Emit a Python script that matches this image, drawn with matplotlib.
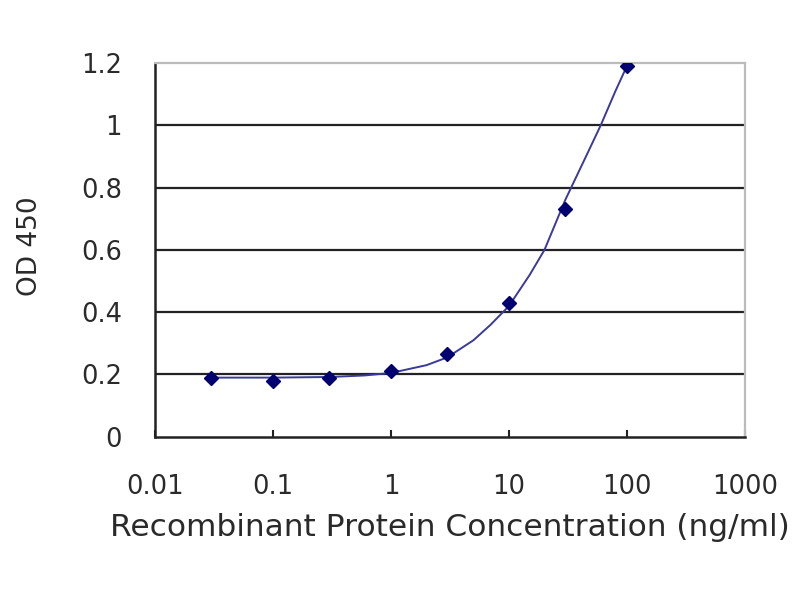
import numpy as np
import matplotlib
matplotlib.use('Agg')
from matplotlib import pyplot as plt

# measured points (ng/ml vs OD 450)
conc = [0.03, 0.1, 0.3, 1, 3, 10, 30, 100]
od = [0.19, 0.18, 0.19, 0.21, 0.265, 0.43, 0.73, 1.19]

# fitted curve
curve_x = [0.03, 0.1, 0.3, 0.6, 1, 2, 3, 5, 7, 10, 15, 20, 30, 45, 60, 80, 100]
curve_y = [0.19, 0.19, 0.192, 0.197, 0.205, 0.23, 0.255, 0.31, 0.36, 0.42, 0.52, 0.6, 0.76, 0.9, 1.0, 1.11, 1.19]

xticks = [0.01, 0.1, 1, 10, 100, 1000]
xticklabels = ['0.01', '0.1', '1', '10', '100', '1000']
yticks = [0, 0.2, 0.4, 0.6, 0.8, 1, 1.2]
yticklabels = ['0', '0.2', '0.4', '0.6', '0.8', '1', '1.2']

plt.rcParams['font.family'] = ['DejaVu Sans']

fig = plt.figure(figsize=(8, 6), dpi=100)
ax = fig.add_axes([0.194, 0.272, 0.737, 0.623])

for v in yticks[1:-1]:
    ax.axhline(v, color='#222222', lw=1.6, zorder=1)

ax.plot(curve_x, curve_y, color='#3a3a9a', lw=1.4, zorder=2)
ax.plot(conc, od, 'D', color='#000070', ms=7.5, zorder=3)

ax.set_xscale('log')
ax.set_xlim(0.01, 1000)
ax.set_ylim(0, 1.2)
ax.set_xticks(xticks)
ax.set_xticklabels(xticklabels)
ax.minorticks_off()
ax.set_yticks(yticks)
ax.set_yticklabels(yticklabels)

ax.tick_params(axis='x', direction='in', length=5, width=1.5, color='#222222',
               labelsize=18.5, labelcolor='#2a2a2a', pad=27)
ax.tick_params(axis='y', length=0, labelsize=18.5, labelcolor='#2a2a2a', pad=24)

for s in ['left', 'bottom']:
    ax.spines[s].set_color('#222222')
    ax.spines[s].set_linewidth(1.8)
for s in ['top', 'right']:
    ax.spines[s].set_color('#bbbbbb')
    ax.spines[s].set_linewidth(1.6)

ax.set_ylabel('OD 450', fontsize=19, color='#2a2a2a')
ax.yaxis.set_label_coords(-0.19, 0.51)
ax.set_xlabel('Recombinant Protein Concentration (ng/ml)', fontsize=22.5,
              color='#2a2a2a')
ax.xaxis.set_label_coords(0.5, -0.205)

fig.savefig('out.png', dpi=100)
